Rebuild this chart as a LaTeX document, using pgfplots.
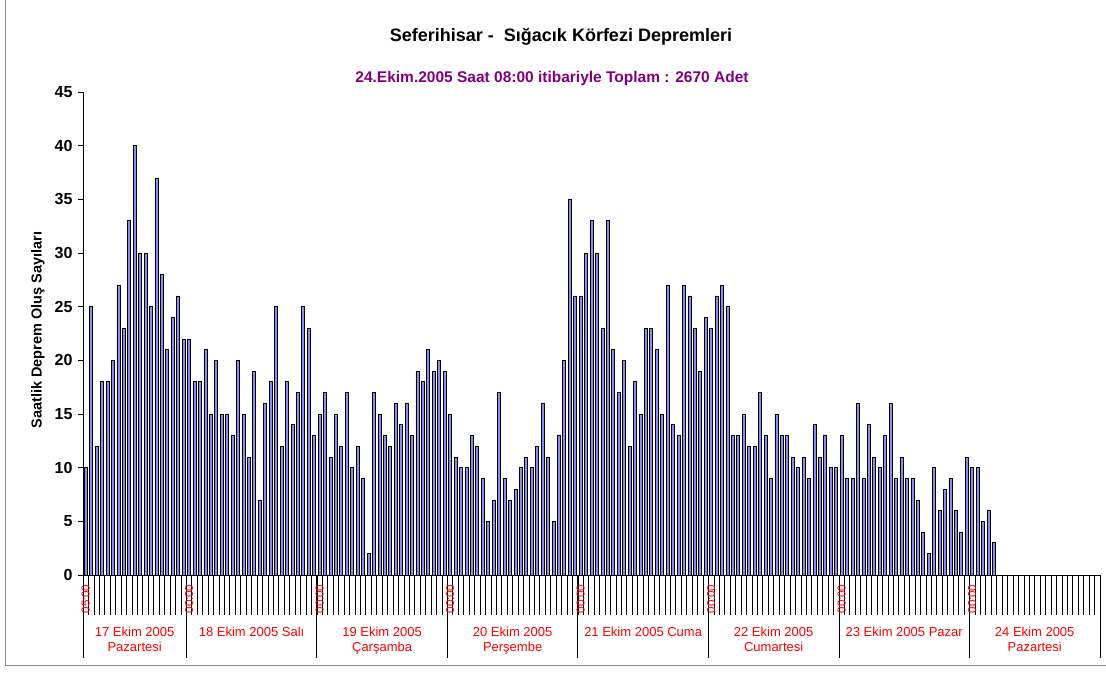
\documentclass[border=0pt]{standalone}
\usepackage{pgfplots}
\pgfplotsset{compat=1.18}
\usepackage{fontspec}
\setmainfont{Liberation Sans}
\definecolor{barblue}{RGB}{140,140,240}
\definecolor{dayred}{RGB}{255,0,0}
\definecolor{subpurple}{RGB}{128,0,128}

\pgfplotstableread{
x y
0 10
1 25
2 12
3 18
4 18
5 20
6 27
7 23
8 33
9 40
10 30
11 30
12 25
13 37
14 28
15 21
16 24
17 26
18 22
19 22
20 18
21 18
22 21
23 15
24 20
25 15
26 15
27 13
28 20
29 15
30 11
31 19
32 7
33 16
34 18
35 25
36 12
37 18
38 14
39 17
40 25
41 23
42 13
43 15
44 17
45 11
46 15
47 12
48 17
49 10
50 12
51 9
52 2
53 17
54 15
55 13
56 12
57 16
58 14
59 16
60 13
61 19
62 18
63 21
64 19
65 20
66 19
67 15
68 11
69 10
70 10
71 13
72 12
73 9
74 5
75 7
76 17
77 9
78 7
79 8
80 10
81 11
82 10
83 12
84 16
85 11
86 5
87 13
88 20
89 35
90 26
91 26
92 30
93 33
94 30
95 23
96 33
97 21
98 17
99 20
100 12
101 18
102 15
103 23
104 23
105 21
106 15
107 27
108 14
109 13
110 27
111 26
112 23
113 19
114 24
115 23
116 26
117 27
118 25
119 13
120 13
121 15
122 12
123 12
124 17
125 13
126 9
127 15
128 13
129 13
130 11
131 10
132 11
133 9
134 14
135 11
136 13
137 10
138 10
139 13
140 9
141 9
142 16
143 9
144 14
145 11
146 10
147 13
148 16
149 9
150 11
151 9
152 9
153 7
154 4
155 2
156 10
157 6
158 8
159 9
160 6
161 4
162 11
163 10
164 10
165 5
166 6
167 3
}\hourly

\begin{document}
\begin{tikzpicture}[x=1pt,y=1pt]
\useasboundingbox (0,0) rectangle (1106,673);
\draw[black!45, line width=1pt] (5,673) -- (5,8) -- (1106,8);
\node[font=\bfseries\fontsize{18}{20}\selectfont] at (561,636) {Seferihisar -\ \ Sığacık Körfezi Depremleri};
\node[font=\bfseries\fontsize{15.5}{17}\selectfont, text=subpurple] at (552,595) {24.Ekim.2005 Saat 08:00 itibariyle Toplam : 2670 Adet};
\node[rotate=90, font=\bfseries\fontsize{14.5}{16}\selectfont] at (38,343) {Saatlik Deprem Oluş Sayıları};
\begin{axis}[
  at={(83pt,98pt)}, anchor=south west,
  scale only axis, width=1017pt, height=483pt,
  xmin=-0.5, xmax=186.5, ymin=0, ymax=45,
  axis lines=left, axis line style={-, line width=0.9pt, black},
  xtick=\empty,
  ytick={0,5,...,45},
  tick align=outside, major tick length=5pt,
  ytick style={line width=0.8pt, black},
  yticklabel style={font=\bfseries\fontsize{16}{17}\selectfont, xshift=-2pt},
  /pgf/number format/assume math mode=true,
  clip=false,
]
\addplot[ybar, bar width=3pt, bar shift=0pt, fill=barblue, draw=black, line width=0.7pt] table[x=x,y=y] {\hourly};
\foreach \i in {-0.5,0.5,...,186.6}{
  \edef\tmp{\noexpand\draw[line width=0.7pt] (axis cs:\i,0) -- ++(0pt,-40pt);}\tmp
}
\foreach \i in {-0.5,18.5,42.5,66.5,90.5,114.5,138.5,162.5,186.5}{
  \edef\tmp{\noexpand\draw[line width=0.8pt] (axis cs:\i,0) -- ++(0pt,-83pt);}\tmp
}
\node[rotate=90, text=dayred, font=\fontsize{11.5}{12}\selectfont, inner sep=0pt] at ([yshift=-24pt]axis cs:0,0) {05:00};
\foreach \i in {19,43,67,91,115,139,163}{
  \edef\tmp{\noexpand\node[rotate=90, text=dayred, font=\noexpand\fontsize{11.5}{12}\noexpand\selectfont, inner sep=0pt] at ([yshift=-24pt]axis cs:\i,0) {00:00};}\tmp
}
\tikzset{dl/.style={anchor=base, text=dayred, font=\fontsize{13}{14}\selectfont, inner sep=0pt}}
\node[dl] at ([yshift=-61.5pt]axis cs:9,0) {17 Ekim 2005};
\node[dl] at ([yshift=-76.5pt]axis cs:9,0) {Pazartesi};
\node[dl] at ([yshift=-61.5pt]axis cs:30.5,0) {18 Ekim 2005 Salı};
\node[dl] at ([yshift=-61.5pt]axis cs:54.5,0) {19 Ekim 2005};
\node[dl] at ([yshift=-76.5pt]axis cs:54.5,0) {Çarşamba};
\node[dl] at ([yshift=-61.5pt]axis cs:78.5,0) {20 Ekim 2005};
\node[dl] at ([yshift=-76.5pt]axis cs:78.5,0) {Perşembe};
\node[dl] at ([yshift=-61.5pt]axis cs:102.5,0) {21 Ekim 2005 Cuma};
\node[dl] at ([yshift=-61.5pt]axis cs:126.5,0) {22 Ekim 2005};
\node[dl] at ([yshift=-76.5pt]axis cs:126.5,0) {Cumartesi};
\node[dl] at ([yshift=-61.5pt]axis cs:150.5,0) {23 Ekim 2005 Pazar};
\node[dl] at ([yshift=-61.5pt]axis cs:174.5,0) {24 Ekim 2005};
\node[dl] at ([yshift=-76.5pt]axis cs:174.5,0) {Pazartesi};
\end{axis}
\end{tikzpicture}
\end{document}
